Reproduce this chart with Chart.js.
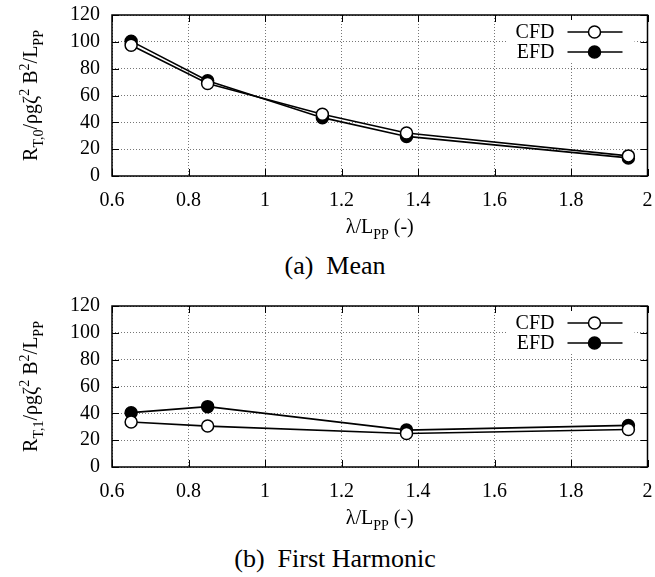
<!DOCTYPE html>
<html>
<head>
<meta charset="utf-8">
<script src="https://cdn.jsdelivr.net/npm/chart.js@4.4.0/dist/chart.umd.min.js"></script>
<style>
  body { margin:0; background:#fff; width:655px; height:577px; position:relative; overflow:hidden; }
  .panel { position:absolute; left:0; width:655px; height:250px; }
  .cap { position:absolute; left:0; width:670px; text-align:center; font:26px "Liberation Serif", serif; color:#000; white-space:pre; }
</style>
</head>
<body>
<div class="panel" style="top:0"><canvas id="cMean" width="655" height="250"></canvas></div>
<div class="cap" style="top:251px">(a)  Mean</div>
<div class="panel" style="top:291px"><canvas id="cHarm" width="655" height="250"></canvas></div>
<div class="cap" style="top:544px">(b)  First Harmonic</div>
<script>
// wave length ratio and resistance values
const lambdaMean = [0.65, 0.85, 1.15, 1.37, 1.95];
const cfdMean = [97.5, 69, 46, 32, 15];
const efdMean = [100.5, 71, 43.5, 29.5, 13.5];

const lambdaHarm = [0.65, 0.85, 1.37, 1.95];
const cfdHarm = [33.5, 30.5, 25, 28];
const efdHarm = [40.5, 45, 27.5, 31];

const xTicks = [0.6, 0.8, 1, 1.2, 1.4, 1.6, 1.8, 2];
const yTicks = [0, 20, 40, 60, 80, 100, 120];

const SERIF = '"Liberation Serif", "Times New Roman", serif';

// text with sub/superscripts: parts = [[text, shift]], shift 1 = sub, -1 = sup
function richText(ctx, parts, x, y, size, align){
  const small = Math.round(size * 0.72);
  const w = parts.reduce((s, [t, sh]) => {
    ctx.font = (sh ? small : size) + 'px ' + SERIF;
    return s + ctx.measureText(t).width;
  }, 0);
  let cx = align === 'center' ? x - w / 2 : x;
  parts.forEach(([t, sh]) => {
    ctx.font = (sh ? small : size) + 'px ' + SERIF;
    const dy = sh === 1 ? size * 0.3 : sh === -1 ? -size * 0.4 : 0;
    ctx.fillText(t, cx, y + dy);
    cx += ctx.measureText(t).width;
  });
}

const framePlugin = {
  id: 'frame',
  afterDraw(chart, args, opts){
    const { ctx, chartArea: a, scales: { x, y } } = chart;
    ctx.save();
    ctx.strokeStyle = '#000';
    ctx.lineWidth = 1;
    ctx.beginPath();
    xTicks.forEach(v => {
      const px = Math.round(x.getPixelForValue(v)) + 0.5;
      ctx.moveTo(px, a.bottom); ctx.lineTo(px, a.bottom - 7);
      ctx.moveTo(px, a.top); ctx.lineTo(px, a.top + 7);
    });
    yTicks.forEach(v => {
      const py = Math.round(y.getPixelForValue(v)) + 0.5;
      ctx.moveTo(a.left, py); ctx.lineTo(a.left + 7, py);
      ctx.moveTo(a.right, py); ctx.lineTo(a.right - 7, py);
    });
    ctx.stroke();

    // legend box, top right
    const lx = a.right - 140, ly = a.top + 5;
    ctx.fillStyle = '#fff';
    ctx.fillRect(lx, ly, 127, 43);
    chart.data.datasets.forEach((ds, i) => {
      const ry = a.top + 17 + i * 20;
      ctx.fillStyle = '#000';
      ctx.font = '20px ' + SERIF;
      ctx.textAlign = 'right';
      ctx.textBaseline = 'middle';
      ctx.fillText(ds.label, a.right - 93, ry + 1);
      ctx.lineWidth = 1.5;
      ctx.beginPath();
      ctx.moveTo(a.right - 80, ry); ctx.lineTo(a.right - 25, ry);
      ctx.stroke();
      ctx.beginPath();
      ctx.arc(a.right - 53, ry, ds.pointRadius, 0, Math.PI * 2);
      ctx.fillStyle = ds.pointBackgroundColor;
      ctx.fill();
      ctx.stroke();
    });

    // frame
    ctx.lineWidth = 1.5;
    ctx.strokeRect(a.left, a.top, a.width, a.height);

    // axis titles
    ctx.fillStyle = '#000';
    ctx.textAlign = 'left';
    ctx.textBaseline = 'alphabetic';
    richText(ctx, [['λ/L', 0], ['PP', 1], [' (-)', 0]], (a.left + a.right) / 2, a.bottom + 57, 20, 'center');
    ctx.translate(37, (a.top + a.bottom) / 2);
    ctx.rotate(-Math.PI / 2);
    richText(ctx, [['R', 0], [opts.sub, 1], ['/ρgζ', 0], ['2', -1], [' B', 0], ['2', -1], ['/L', 0], ['PP', 1]], 0, 0, 20, 'center');
    ctx.restore();
  }
};

function makeChart(canvas, xs, cfd, efd, sub){
  const pts = (arr) => arr.map((v, i) => ({ x: xs[i], y: v }));
  const series = (label, data, fill) => ({
    label, data,
    borderColor: '#000', borderWidth: 1.6,
    pointRadius: 6, pointBorderWidth: 1.5,
    pointBorderColor: '#000', pointBackgroundColor: fill,
    tension: 0
  });
  return new Chart(canvas, {
    type: 'line',
    data: { datasets: [series('CFD', pts(cfd), '#fff'), series('EFD', pts(efd), '#000')] },
    options: {
      responsive: false,
      animation: false,
      layout: { padding: { top: 15, right: 5, left: 0, bottom: 0 } },
      plugins: { legend: { display: false }, tooltip: { enabled: false }, frame: { sub } },
      scales: {
        x: {
          type: 'linear', min: 0.6, max: 2,
          afterFit: s => { s.height = 74; s.paddingLeft = 0; s.paddingRight = 0; },
          afterBuildTicks: s => { s.ticks = xTicks.map(v => ({ value: v })); },
          ticks: { padding: 13, color: '#000', autoSkip: false, font: { family: SERIF, size: 20 }, maxRotation: 0,
                   callback: v => String(+v.toFixed(1)) },
          grid: { color: '#777', drawTicks: false, lineWidth: 1 },
          border: { display: false, dash: [1, 2] }
        },
        y: {
          min: 0, max: 120,
          afterFit: s => { s.width = 112; s.paddingTop = 0; s.paddingBottom = 0; },
          afterBuildTicks: s => { s.ticks = yTicks.map(v => ({ value: v })); },
          ticks: { padding: 12, color: '#000', autoSkip: false, font: { family: SERIF, size: 20 } },
          grid: { color: '#777', drawTicks: false, lineWidth: 1 },
          border: { display: false, dash: [1, 2] }
        }
      }
    },
    plugins: [framePlugin]
  });
}

makeChart(document.getElementById('cMean'), lambdaMean, cfdMean, efdMean, 'T,0');
makeChart(document.getElementById('cHarm'), lambdaHarm, cfdHarm, efdHarm, 'T,1');
</script>
</body>
</html>
